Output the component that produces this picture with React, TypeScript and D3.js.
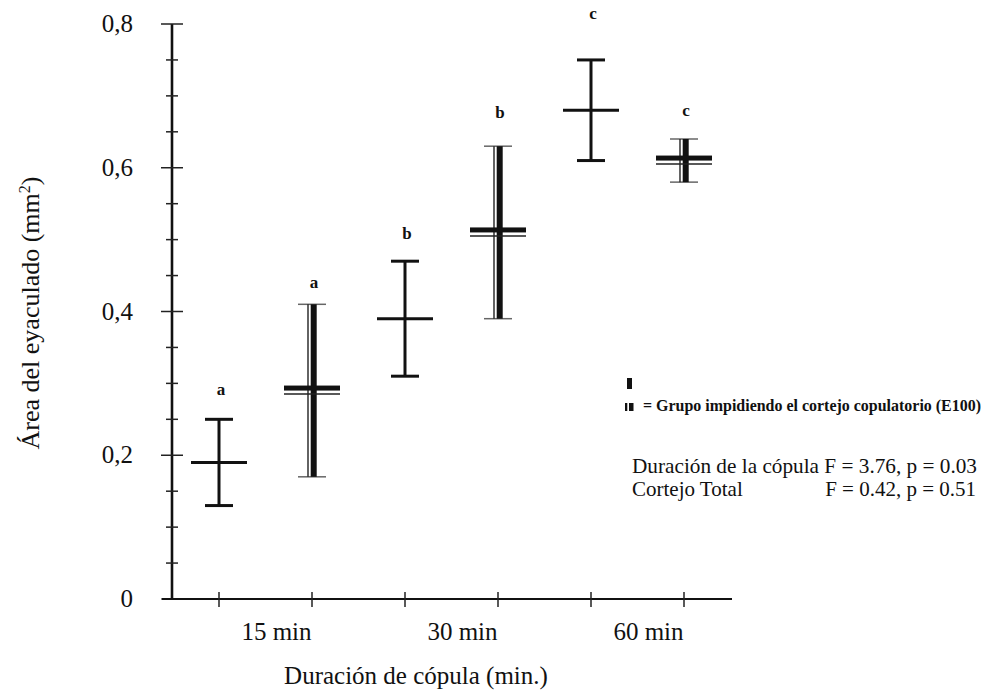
import React from "react";
import * as d3 from "d3";

// Área del eyaculado por duración de cópula, control vs E100
const groups = ["15-ctrl", "15-E100", "30-ctrl", "30-E100", "60-ctrl", "60-E100"];
const treatment = ["ctrl", "E100", "ctrl", "E100", "ctrl", "E100"];
const means = [0.19, 0.29, 0.39, 0.51, 0.68, 0.61];
const errors = [0.06, 0.12, 0.08, 0.12, 0.07, 0.03];
const letters = ["a", "a", "b", "b", "c", "c"];
const letterY = [0.291, 0.44, 0.508, 0.676, 0.814, 0.679];

const durations = ["15 min", "30 min", "60 min"];
const yTicks = [0, 0.2, 0.4, 0.6, 0.8];
const yTickLabels = ["0", "0,2", "0,4", "0,6", "0,8"];
const minorTicks = d3.range(1, 16).map((i) => i * 0.05).filter((_, i) => (i + 1) % 4 !== 0);

const W = 988;
const H = 692;
const FONT = "'Liberation Serif', 'Times New Roman', serif";

const x = d3.scalePoint<string>().domain(groups).range([219, 684]);
const y = d3.scaleLinear().domain([0, 0.8]).range([599, 24]);

const axisLeft = 172;

const App: React.FC = () => {
	return (
		<svg
			width={W}
			height={H}
			style={{ position: "absolute", left: 0, top: 0, background: "#fff" }}
			fontFamily={FONT}
		>
			{/* y axis */}
			<line x1={axisLeft} x2={axisLeft} y1={y(0.8)} y2={y(0)} stroke="#111" strokeWidth={2.6} />
			{yTicks.map((t, i) => (
				<g key={t}>
					{t > 0 && (
						<line x1={axisLeft - 11} x2={axisLeft + 11} y1={y(t)} y2={y(t)} stroke="#222" strokeWidth={1.5} />
					)}
					<text x={133} y={y(t) + 8} fontSize={25} textAnchor="end" fill="#111">
						{yTickLabels[i]}
					</text>
				</g>
			))}
			{minorTicks.map((t) => (
				<line key={t} x1={axisLeft - 6} x2={axisLeft + 6} y1={y(t)} y2={y(t)} stroke="#222" strokeWidth={1.5} />
			))}

			{/* x axis */}
			<line x1={161.5} x2={732} y1={y(0)} y2={y(0)} stroke="#111" strokeWidth={2.2} />
			{groups.map((g) => (
				<line key={g} x1={x(g)} x2={x(g)} y1={y(0) - 7} y2={y(0) + 8} stroke="#222" strokeWidth={1.5} />
			))}
			{durations.map((d, i) => {
				const cx = ((x(groups[i * 2]) as number) + (x(groups[i * 2 + 1]) as number)) / 2 + 11;
				return (
					<text key={d} x={cx} y={640} fontSize={25} textAnchor="middle" fill="#111">
						{d}
					</text>
				);
			})}

			{/* axis titles */}
			<text x={416} y={684} fontSize={25} textAnchor="middle" fill="#111">
				Duración de cópula (min.)
			</text>
			<text transform="translate(39,313) rotate(-90)" fontSize={26} textAnchor="middle" fill="#111">
				Área del eyaculado (mm<tspan dy={-9} fontSize={16}>2</tspan>
				<tspan dy={9}>)</tspan>
			</text>

			{/* error bars */}
			{groups.map((g, i) => {
				const cx = x(g) as number;
				const top = y(means[i] + errors[i]);
				const bot = y(means[i] - errors[i]);
				const ym = y(means[i]);
				if (treatment[i] === "ctrl") {
					return (
						<g key={g} stroke="#111" strokeWidth={3}>
							<line x1={cx} x2={cx} y1={top} y2={bot} />
							<line x1={cx - 14} x2={cx + 14} y1={top} y2={top} />
							<line x1={cx - 14} x2={cx + 14} y1={bot} y2={bot} />
							<line x1={cx - 28} x2={cx + 28} y1={ym} y2={ym} />
						</g>
					);
				}
				return (
					<g key={g}>
						<line x1={cx - 14} x2={cx + 14} y1={top} y2={top} stroke="#666" strokeWidth={1.5} />
						<line x1={cx - 14} x2={cx + 14} y1={bot} y2={bot} stroke="#666" strokeWidth={1.5} />
						<line x1={cx - 4} x2={cx - 4} y1={top} y2={bot} stroke="#222" strokeWidth={1.4} />
						<rect x={cx - 1.3} y={top} width={6} height={bot - top} fill="#111" />
						<rect x={cx - 28} y={ym - 5} width={56} height={5} fill="#111" />
						<line x1={cx - 28} x2={cx + 28} y1={ym + 3.5} y2={ym + 3.5} stroke="#222" strokeWidth={1.6} />
					</g>
				);
			})}

			{/* significance letters */}
			{groups.map((g, i) => (
				<text
					key={g}
					x={(x(g) as number) + 2}
					y={y(letterY[i]) + 5}
					fontSize={17}
					fontWeight="bold"
					textAnchor="middle"
					fill="#111"
				>
					{letters[i]}
				</text>
			))}

			{/* legend */}
			<rect x={627} y={378} width={5} height={11} fill="#111" />
			<rect x={625} y={403} width={2.3} height={8} fill="#111" />
			<rect x={629} y={403} width={4.5} height={8} fill="#111" />
			<text
				x={643}
				y={411}
				fontSize={16}
				fontWeight="bold"
				fill="#111"
				textLength={338}
				lengthAdjust="spacingAndGlyphs"
			>
				= Grupo impidiendo el cortejo copulatorio (E100)
			</text>

			{/* statistics */}
			<text x={632} y={473} fontSize={21} fill="#111" textLength={345} lengthAdjust="spacingAndGlyphs">
				Duración de la cópula F = 3.76, p = 0.03
			</text>
			<text x={632} y={496} fontSize={21} fill="#111">
				Cortejo Total
			</text>
			<text x={976} y={496} fontSize={21} fill="#111" textAnchor="end">
				F = 0.42, p = 0.51
			</text>
		</svg>
	);
};

export default App;
